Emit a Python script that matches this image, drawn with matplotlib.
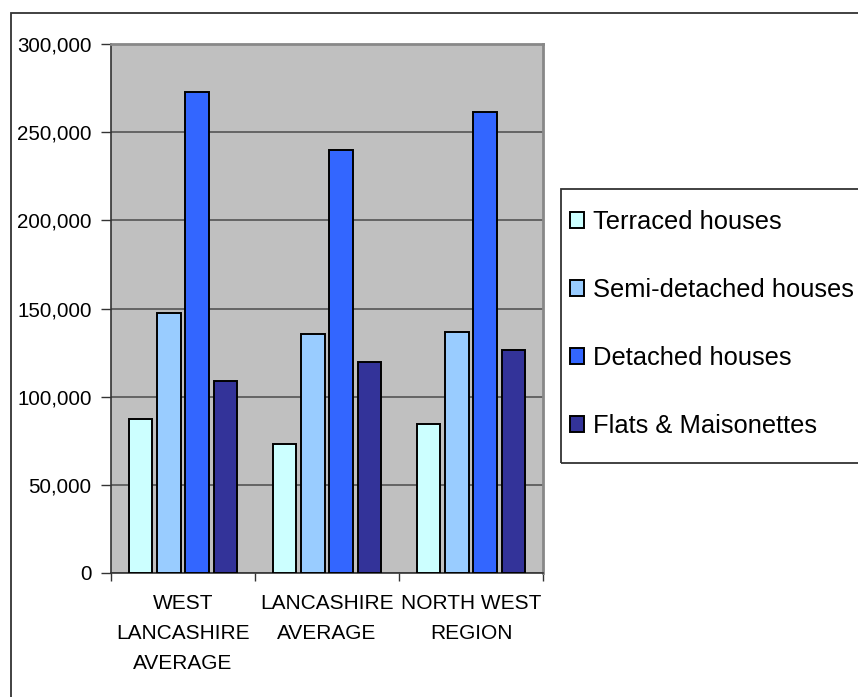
import matplotlib
matplotlib.use('Agg')
import matplotlib.pyplot as plt
import numpy as np
from matplotlib.patches import Rectangle
from matplotlib.ticker import FuncFormatter, MultipleLocator

plt.rcParams['font.family'] = ['Liberation Sans', 'DejaVu Sans']

# average house prices by area and property type
areas = ['WEST\nLANCASHIRE\nAVERAGE', 'LANCASHIRE\nAVERAGE', 'NORTH WEST\nREGION']
terraced = [87500, 73000, 84300]
semi_detached = [147700, 135400, 136500]
detached = [272700, 239800, 261400]
flats = [109100, 119500, 126300]

series = [
    (terraced, 'Terraced houses', '#CCFFFF'),
    (semi_detached, 'Semi-detached houses', '#99CCFF'),
    (detached, 'Detached houses', '#3366FF'),
    (flats, 'Flats & Maisonettes', '#333399'),
]

W, H = 858, 697
fig = plt.figure(figsize=(W / 100, H / 100), dpi=100)

# chart border (runs off the right and bottom edges)
fig.patches.append(Rectangle((11 / W, -0.2), 2.0, 1 - 13 / H + 0.2, transform=fig.transFigure,
                             fill=False, edgecolor='#333333', linewidth=1.3))

ax = fig.add_axes([111 / W, 1 - 573 / H, 432 / W, 529 / H])
ax.set_facecolor('#C0C0C0')

x = np.arange(len(areas))
slot = 0.1965
width = 0.163
handles = []
for k, (vals, label, color) in enumerate(series):
    b = ax.bar(x + (k - 1.5) * slot, vals, width, color=color, edgecolor='black',
               linewidth=1.4, label=label, zorder=3)
    handles.append(b)

ax.set_xlim(-0.5, 2.5)
ax.set_ylim(0, 300000)
ax.yaxis.set_major_locator(MultipleLocator(50000))
ax.yaxis.set_major_formatter(FuncFormatter(lambda v, p: '{:,.0f}'.format(v)))
ax.grid(axis='y', color='#555555', linewidth=1.2, zorder=1)

ax.set_xticks(x)
ax.set_xticklabels(areas, fontsize=15, linespacing=1.75)
ax.set_xticks([-0.5, 0.5, 1.5, 2.5], minor=True)
ax.tick_params(axis='x', which='major', length=0, pad=15)
ax.tick_params(axis='x', which='minor', length=6, width=1, color='#333333')
ax.tick_params(axis='y', labelsize=14.8, length=7, width=1, color='#333333', pad=7)

for s in ['left', 'bottom']:
    ax.spines[s].set_color('#333333')
    ax.spines[s].set_linewidth(1.2)
for s in ['top', 'right']:
    ax.spines[s].set_color('#888888')
    ax.spines[s].set_linewidth(2)

# legend frame
fig.patches.append(Rectangle((561 / W, 1 - 463 / H), 1.0, 274 / H, transform=fig.transFigure,
                             fill=False, edgecolor='#333333', linewidth=1.3))
leg = fig.legend(handles=handles, loc='upper left', bbox_to_anchor=(570 / W, 1 - 210 / H),
                 bbox_transform=fig.transFigure, frameon=False, fontsize=18.4,
                 handlelength=0.55, handleheight=0.55, handletextpad=0.35,
                 labelspacing=1.72, borderpad=0, borderaxespad=0)

fig.savefig('out.png', dpi=100)
